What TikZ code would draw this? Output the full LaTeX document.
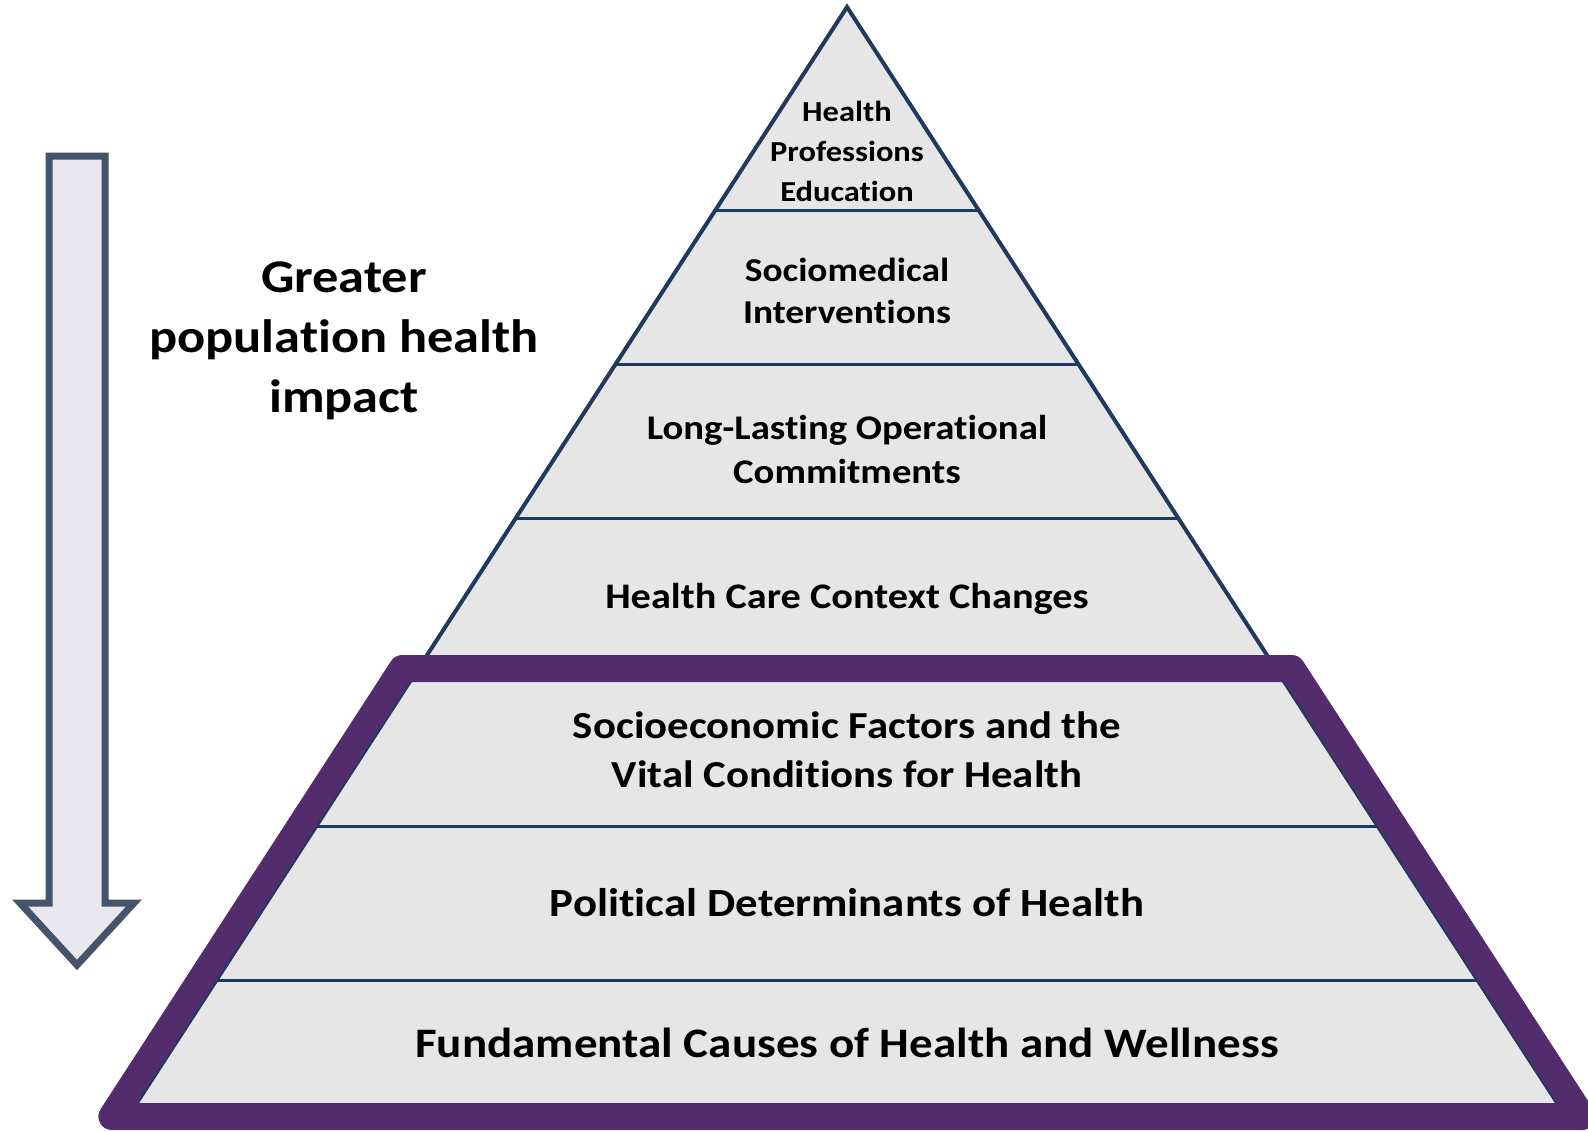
\documentclass[tikz,border=0pt]{standalone}
\usepackage{fontspec}
\setmainfont[FakeStretch=1.12, Ligatures=NoCommon]{Carlito}
\definecolor{framepurple}{HTML}{532C6E}
\definecolor{tierline}{HTML}{1F3A60}
\definecolor{tierfill}{HTML}{E7E6E6}
\definecolor{arrowline}{HTML}{44546A}
\definecolor{arrowfill}{HTML}{E8E8EE}

\begin{document}
\begin{tikzpicture}[x=0.5pt, y=-0.5pt,
    tiertext/.style={align=center, text=black, inner sep=0pt},
    tierrule/.style={draw=tierline, line width=1.5pt}]
    \useasboundingbox (0,0) rectangle (1588,1131);
    % Pyramid body
    \fill[tierfill] (847,7) -- (1566.3,1117) -- (127.7,1117) -- cycle;
    % Tier boundaries
    \draw[tierrule] (715.5,210) -- (978.5,210);
    \draw[tierrule] (615.7,364) -- (1078.3,364);
    \draw[tierrule] (515.9,518) -- (1178.1,518);
    \draw[tierrule] (316.3,826) -- (1377.7,826);
    \draw[tierrule] (216.5,980) -- (1477.5,980);
    \draw[tierline, line width=2pt] (847,7) -- (1566.3,1117) -- (127.7,1117) -- cycle;
    % Purple frame round the lower tiers
    \draw[framepurple, line width=13.5pt, line join=round] (402.3,668.5) -- (1291.7,668.5) -- (1582.1,1116.5) -- (111.9,1116.5) -- cycle;
    % Down arrow
    \draw[arrowline, fill=arrowfill, line width=3.5pt] (49,156) -- (105,156) -- (105,903) -- (134,903) -- (77,965) -- (20,903) -- (49,903) -- cycle;
    % Labels
    \node[tiertext, font=\bfseries\fontsize{23.4}{30}\selectfont] (impact) at (344,341) {Greater\\population health\\impact};
    \node[tiertext, font=\bfseries\fontsize{14.5}{20}\selectfont] (hpe) at (847,151) {Health\\Professions\\Education};
    \node[tiertext, font=\bfseries\fontsize{16.7}{21}\selectfont] (socmed) at (847,291) {Sociomedical\\Interventions};
    \node[tiertext, font=\bfseries\fontsize{17.3}{22}\selectfont] (longlast) at (847,449) {Long-Lasting Operational\\Commitments};
    \node[tiertext, font=\bfseries\fontsize{18}{22}\selectfont] (context) at (847,599) {Health Care Context Changes};
    \node[tiertext, font=\bfseries\fontsize{19.1}{24.5}\selectfont] (socecon) at (847,750) {Socioeconomic Factors and the\\Vital Conditions for Health};
    \node[tiertext, font=\bfseries\fontsize{20}{24}\selectfont] (political) at (847,903) {Political Determinants of Health};
    \node[tiertext, font=\bfseries\fontsize{21}{24}\selectfont] (fundamental) at (847,1043) {Fundamental Causes of Health and Wellness};
\end{tikzpicture}
\end{document}
